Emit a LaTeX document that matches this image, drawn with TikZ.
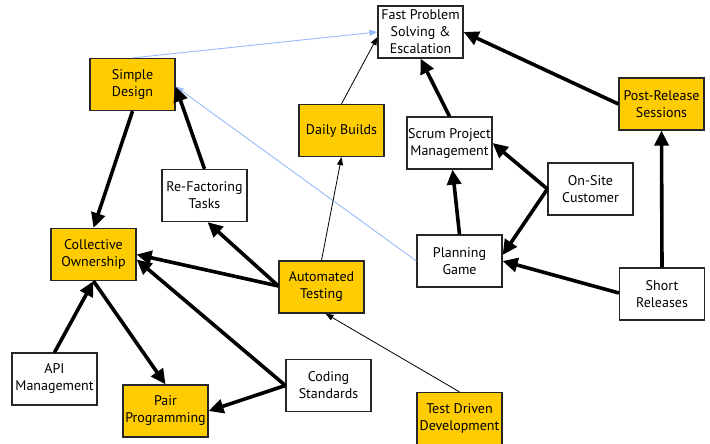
\documentclass[tikz,border=0pt]{standalone}
\usepackage{fontspec}
\setmainfont{PT Sans}
\usetikzlibrary{arrows.meta,calc}
\definecolor{boxyellow}{RGB}{255,204,0}
\definecolor{linkblue}{RGB}{150,185,250}
\tikzset{
  pbox/.style={draw=black!85, line width=1.2pt, minimum width=85pt, minimum height=52pt,
    inner sep=0pt, align=center, font=\fontsize{14}{17}\selectfont},
  ybox/.style={pbox, fill=boxyellow},
  wbox/.style={pbox, fill=white},
  strong/.style={line width=3.6pt, -{Triangle[length=15pt,width=14pt]}},
  weak/.style={line width=0.8pt, -{Triangle[length=8pt,width=6pt]}},
  soft/.style={line width=0.9pt, draw=linkblue, -{Triangle[length=8pt,width=6pt,fill=linkblue]}}
}
\begin{document}
\begin{tikzpicture}[x=1pt,y=-1pt]
\useasboundingbox (0,0) rectangle (710,444);

% practice boxes
\node[ybox] (sd)  at (132.5,84.5) {Simple\\Design};
\node[wbox] (rf)  at (204.5,195.5) {Re-Factoring\\Tasks};
\node[ybox] (db)  at (341.5,130.5) {Daily Builds};
\node[wbox] (fp)  at (420.5,32) {Fast Problem\\Solving \&\\Escalation};
\node[wbox] (spm) at (449.5,143) {Scrum Project\\Management};
\node[ybox] (prs) at (661.5,104) {Post-Release\\Sessions};
\node[wbox] (osc) at (590.5,189) {On-Site\\Customer};
\node[ybox] (co)  at (93.5,254.5) {Collective\\Ownership};
\node[ybox] (at)  at (321.5,287) {Automated\\Testing};
\node[wbox] (api) at (54.5,379) {API\\Management};
\node[ybox] (pp)  at (165.5,411) {Pair\\Programming};
\node[wbox] (cs)  at (328.5,385.5) {Coding\\Standards};
\node[wbox] (pg)  at (459.5,261) {Planning\\Game};
\node[wbox] (sr)  at (662,294) {Short\\Releases};
\node[ybox] (tdd) at (459.5,418.5) {Test Driven\\Development};

% light dependencies
\draw[soft] (sd.north) -- (fp.west);
\draw[soft] (pg.west) -- ($(sd.east)+(0,2)$);
\draw[weak] (db.north) -- ($(fp.west)+(0,5)$);
\draw[weak] (at.north) -- (db.south);
\draw[weak] (tdd.north) -- ($(at.south)+(4,0)$);

% strong dependencies
\draw[strong] (sd.south) -- (co.north);
\draw[strong] (rf.north) -- ($(sd.east)+(0,2)$);
\draw[strong] ($(at.west)+(0,-1)$) -- ($(rf.south)+(3,0)$);
\draw[strong] ($(at.west)+(0,-1)$) -- (co.east);
\draw[strong] (cs.west) -- ($(co.east)+(0,5)$);
\draw[strong] (cs.west) -- (pp.east);
\draw[strong] (co.south) -- (pp.north);
\draw[strong] (api.north) -- (co.south);
\draw[strong] (spm.north) -- (fp.south);
\draw[strong] (prs.west) -- (fp.east);
\draw[strong] (osc.west) -- (spm.east);
\draw[strong] (osc.west) -- ($(pg.east)+(0,-6)$);
\draw[strong] (pg.north) -- ($(spm.south)+(3,0)$);
\draw[strong] ($(sr.west)+(0,-1)$) -- (pg.east);
\draw[strong] (sr.north) -- (prs.south);
\end{tikzpicture}
\end{document}
